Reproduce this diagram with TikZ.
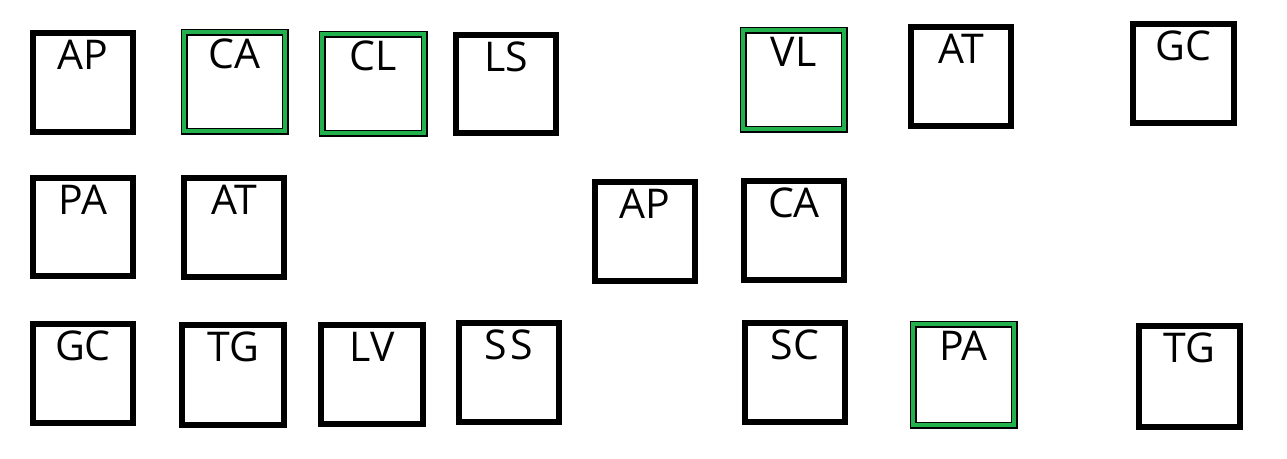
\documentclass[tikz,border=0pt]{standalone}
\usepackage{fontspec}
\setmainfont{Open Sans}
\definecolor{boxgreen}{RGB}{34,177,76}
\begin{document}
\begin{tikzpicture}[x=1pt,y=-1pt,
  plainbox/.style={draw=black,line width=6pt,fill=white},
  greenbox/.style={draw=black,line width=1.5pt,double=boxgreen,double distance=4pt,fill=white},
  lbl/.style={anchor=base,font=\fontsize{41}{41}\selectfont,inner sep=0pt}]
\useasboundingbox (0,0) rectangle (1287,458);
% boxes: #name, x1,y1,x2,y2
\newcommand{\pbox}[7]{%
  \draw[#2] (#3,#4) rectangle (#5,#6);
  \node[lbl] (#1) at ({(#3+#5)/2},#4+36) {#7};}
\pbox{ap1}{plainbox}{33}{33}{133}{132}{AP}
\pbox{ca1}{greenbox}{184}{32}{285}{131}{CA}
\pbox{cl1}{greenbox}{322}{34}{424}{133}{CL}
\pbox{ls1}{plainbox}{456}{35}{556}{133}{LS}
\pbox{vl1}{greenbox}{743}{30}{844}{129}{VL}
\pbox{at1}{plainbox}{911}{27}{1011}{126}{AT}
\pbox{gc1}{plainbox}{1133}{24}{1234}{123}{GC}
\pbox{pa2}{plainbox}{33}{178}{133}{276}{PA}
\pbox{at2}{plainbox}{184}{178}{284}{277}{AT}
\pbox{ap2}{plainbox}{595}{182}{695}{281}{AP}
\pbox{ca2}{plainbox}{744}{181}{844}{280}{CA}
\pbox{gc3}{plainbox}{33}{324}{133}{423}{GC}
\pbox{tg3}{plainbox}{182}{325}{284}{425}{TG}
\pbox{lv3}{plainbox}{321}{325}{423}{424}{LV}
\pbox{ss3}{plainbox}{459}{323}{559}{422}{S\hspace{4pt}S}
\pbox{sc3}{plainbox}{745}{323}{845}{422}{SC}
\pbox{pa3}{greenbox}{913}{324}{1014}{425}{PA}
\pbox{tg4}{plainbox}{1139}{326}{1240}{427}{TG}
\end{tikzpicture}
\end{document}
